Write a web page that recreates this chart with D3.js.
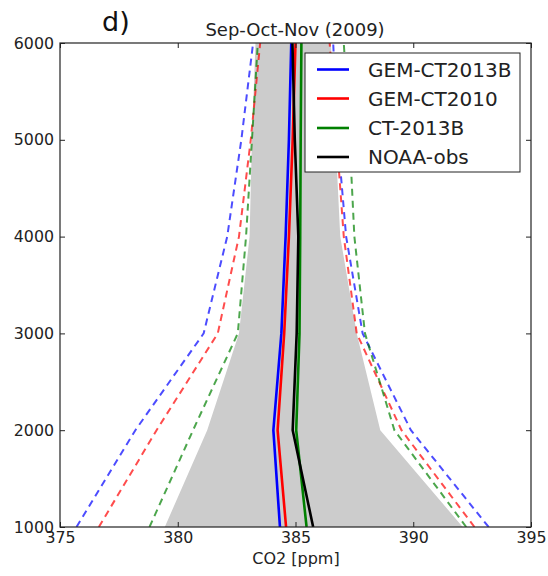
<!DOCTYPE html>
<html>
<head>
<meta charset="utf-8">
<script src="https://cdn.jsdelivr.net/npm/d3@7"></script>
<style>
  html, body { margin: 0; padding: 0; background: #fff; }
  svg { display: block; font-family: "DejaVu Sans", sans-serif; }
</style>
</head>
<body>
<svg id="chart" width="548" height="576"></svg>
<script>
// ---- data ----
const altitudes = [1000, 2000, 3000, 4000, 5000, 6000];

// grey band (NOAA obs range)
const bandLow  = [379.45, 381.25, 382.6, 383.05, 383.15, 383.3];
const bandHigh = [392.1, 388.6, 387.6, 386.9, 386.7, 386.5];

// mean profiles
const gemCT2013B = [384.34, 384.06, 384.4, 384.58, 384.72, 384.82];
const gemCT2010  = [384.6, 384.24, 384.52, 384.72, 384.88, 385.0];
const ct2013B    = [385.47, 385.03, 385.17, 385.2, 385.22, 385.25];
const noaaObs    = [385.75, 384.88, 385.05, 385.12, 384.97, 384.87];

// spread (dashed) profiles
const gemCT2013B_lo = [375.7, 378.2, 381.1, 382.1, 382.7, 383.2];
const gemCT2013B_hi = [393.2, 389.9, 387.85, 387.15, 386.8, 386.6];
const gemCT2010_lo  = [376.65, 379.1, 381.7, 382.6, 383.1, 383.5];
const gemCT2010_hi  = [392.6, 389.5, 387.6, 387.05, 386.75, 386.45];
const ct2013B_lo    = [378.8, 380.65, 382.55, 382.9, 383.15, 383.4];
const ct2013B_hi    = [392.25, 389.2, 387.95, 387.5, 387.3, 387.05];

const seriesNames  = ["GEM-CT2013B", "GEM-CT2010", "CT-2013B", "NOAA-obs"];
const seriesColors = ["#0000ff", "#ff0000", "#008000", "#000000"];

const xTicks = [375, 380, 385, 390, 395];
const yTicks = [1000, 2000, 3000, 4000, 5000, 6000];

const titleText = "Sep-Oct-Nov (2009)";
const panelLabel = "d)";
const xLabel = "CO2 [ppm]";

// ---- layout ----
const svg = d3.select("#chart");
const L = 60, R = 531, T = 43, B = 527;

const x = d3.scaleLinear().domain([375, 395]).range([L, R]);
const y = d3.scaleLinear().domain([1000, 6000]).range([B, T]);

svg.append("defs").append("clipPath").attr("id", "plotclip")
  .append("rect").attr("x", L).attr("y", T).attr("width", R - L).attr("height", B - T);

const plot = svg.append("g").attr("clip-path", "url(#plotclip)");

// band
const area = d3.area()
  .y((d, i) => y(altitudes[i]))
  .x0((d, i) => x(bandLow[i]))
  .x1((d, i) => x(bandHigh[i]));
plot.append("path").datum(altitudes).attr("d", area).attr("fill", "#cccccc");

const line = vals => d3.line()
  .x((d, i) => x(vals[i]))
  .y((d, i) => y(altitudes[i]))(altitudes);

// dashed spreads
const dashed = [
  [gemCT2013B_lo, seriesColors[0]], [gemCT2013B_hi, seriesColors[0]],
  [gemCT2010_lo, seriesColors[1]], [gemCT2010_hi, seriesColors[1]],
  [ct2013B_lo, seriesColors[2]], [ct2013B_hi, seriesColors[2]]
];
dashed.forEach(([vals, c]) => {
  plot.append("path").attr("d", line(vals))
    .attr("fill", "none").attr("stroke", c).attr("stroke-width", 2)
    .attr("stroke-opacity", 0.7).attr("stroke-dasharray", "7,5");
});

// solid means
[gemCT2013B, gemCT2010, ct2013B, noaaObs].forEach((vals, i) => {
  plot.append("path").attr("d", line(vals))
    .attr("fill", "none").attr("stroke", seriesColors[i]).attr("stroke-width", 2.6);
});

// frame
svg.append("rect").attr("x", L).attr("y", T).attr("width", R - L).attr("height", B - T)
  .attr("fill", "none").attr("stroke", "#222").attr("stroke-width", 1.2);

// axes with inward ticks
const axB = svg.append("g").attr("transform", `translate(0,${B})`)
  .call(d3.axisBottom(x).tickValues(xTicks).tickSize(-5).tickPadding(5).tickFormat(d3.format("d")));
const axT = svg.append("g").attr("transform", `translate(0,${T})`)
  .call(d3.axisTop(x).tickValues(xTicks).tickSize(-5).tickFormat(""));
const axL = svg.append("g").attr("transform", `translate(${L},0)`)
  .call(d3.axisLeft(y).tickValues(yTicks).tickSize(-5).tickPadding(6).tickFormat(d3.format("d")));
const axR = svg.append("g").attr("transform", `translate(${R},0)`)
  .call(d3.axisRight(y).tickValues(yTicks).tickSize(-5).tickFormat(""));
[axB, axT, axL, axR].forEach(a => {
  a.select(".domain").remove();
  a.selectAll(".tick line").attr("stroke", "#222").attr("stroke-width", 1);
  a.selectAll(".tick text").attr("fill", "#222").style("font-size", "15.8px")
    .style("font-family", "DejaVu Sans, sans-serif");
});
axB.selectAll(".tick text").attr("dy", "0.71em");

// titles
svg.append("text").attr("x", 295).attr("y", 36).attr("text-anchor", "middle")
  .attr("fill", "#222").style("font-size", "18px").text(titleText);
svg.append("text").attr("x", 102).attr("y", 31)
  .attr("fill", "#111").style("font-size", "27px").text(panelLabel);
svg.append("text").attr("x", 296).attr("y", 564).attr("text-anchor", "middle")
  .attr("fill", "#222").style("font-size", "16px").text(xLabel);

// legend
const lg = svg.append("g");
lg.append("rect").attr("x", 305).attr("y", 53).attr("width", 215).attr("height", 119)
  .attr("fill", "#fff").attr("stroke", "#222").attr("stroke-width", 1);
const rowY = [69.5, 98.5, 128, 157];
seriesNames.forEach((n, i) => {
  lg.append("line").attr("x1", 317).attr("x2", 349).attr("y1", rowY[i]).attr("y2", rowY[i])
    .attr("stroke", seriesColors[i]).attr("stroke-width", 2.6);
  lg.append("text").attr("x", 368).attr("y", rowY[i]).attr("dy", "0.36em")
    .attr("fill", "#222").style("font-size", "20px").text(n);
});
</script>
</body>
</html>
